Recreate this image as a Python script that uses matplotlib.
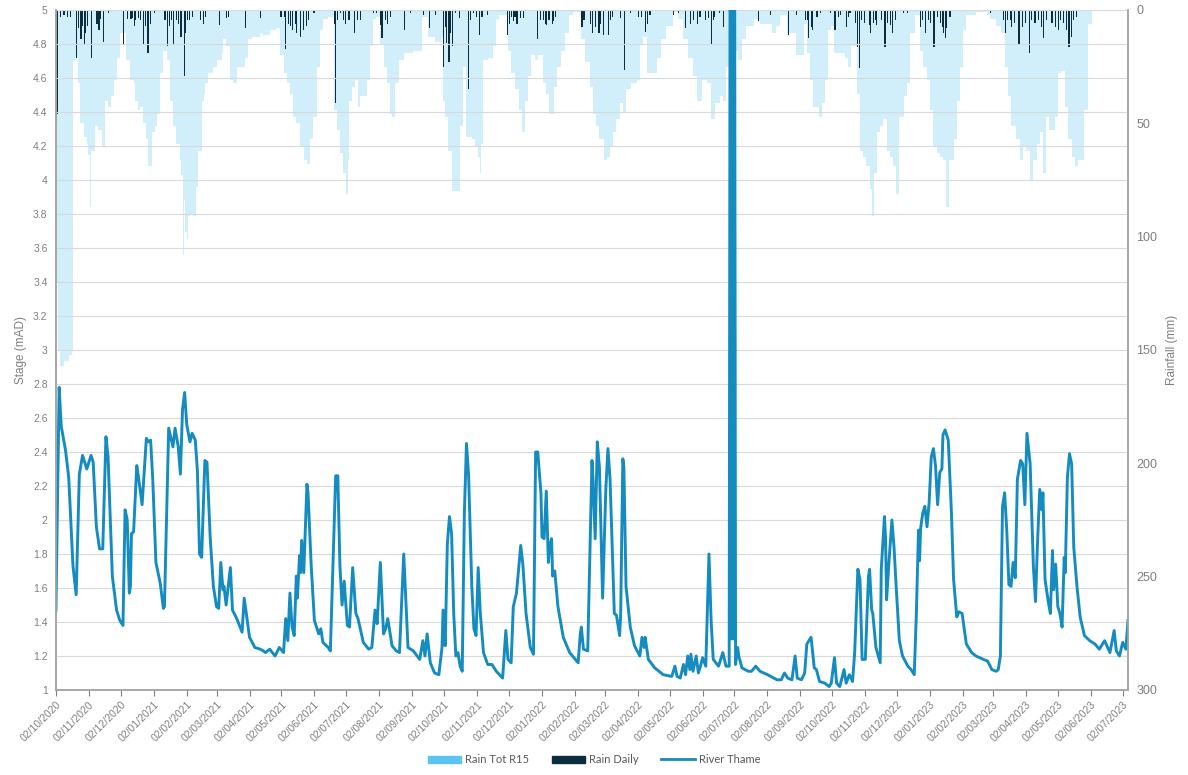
import matplotlib
matplotlib.use("Agg")
import matplotlib.pyplot as plt
import matplotlib.dates as mdates
from matplotlib.patches import Patch
from matplotlib.lines import Line2D
import numpy as np

# all series are day offsets from 02/10/2020
START = "2020-10-02"
END_DAY = 1008

# River Thame stage (mAD)
stage_days = [
    0, 3, 5, 9, 12, 16, 19, 22, 25, 29, 33, 35, 38, 41, 44, 47, 49, 53, 57, 60,
    63, 65, 67, 69, 70, 71, 73, 76, 77, 81, 85, 87, 89, 91, 94, 98, 101, 102, 106, 110,
    112, 115, 117, 119, 121, 123, 126, 128, 131, 133, 135, 137, 140, 142, 145, 148, 151, 153, 155, 157,
    158, 160, 164, 166, 170, 175, 177, 179, 182, 187, 192, 195, 197, 201, 206, 210, 214, 216, 218, 220,
    222, 224, 226, 227, 229, 230, 231, 233, 236, 237, 240, 243, 247, 249, 251, 256, 258, 261, 263, 265,
    267, 269, 271, 274, 276, 279, 282, 284, 289, 294, 297, 300, 302, 305, 308, 310, 312, 316, 320, 323,
    327, 331, 336, 342, 345, 347, 349, 352, 356, 360, 363, 364, 366, 368, 370, 372, 374, 376, 378, 380,
    382, 384, 386, 388, 391, 393, 395, 397, 399, 402, 406, 410, 414, 420, 423, 425, 428, 430, 433, 434,
    437, 439, 442, 446, 449, 451, 453, 456, 457, 459, 461, 463, 464, 466, 467, 469, 472, 477, 483, 491,
    493, 494, 496, 500, 504, 505, 507, 509, 511, 514, 517, 519, 521, 525, 527, 530, 531, 533, 534, 536,
    540, 544, 549, 551, 553, 554, 557, 563, 571, 579, 582, 584, 587, 590, 592, 594, 596, 597, 599, 602,
    604, 606, 608, 611, 614, 616, 618, 623, 627, 630, 633, 634, 635, 636, 637, 638, 639, 641, 642, 645,
    651, 654, 658, 662, 669, 675, 678, 682, 685, 688, 692, 695, 697, 701, 704, 706, 710, 713, 715, 718,
    723, 727, 729, 732, 734, 737, 741, 743, 746, 749, 751, 754, 756, 758, 761, 764, 765, 767, 768, 771,
    775, 776, 779, 780, 781, 783, 786, 788, 790, 793, 796, 801, 804, 807, 809, 811, 812, 813, 815, 817,
    819, 821, 823, 825, 827, 829, 831, 833, 834, 836, 839, 842, 844, 847, 849, 852, 856, 861, 865, 872,
    876, 880, 884, 886, 888, 890, 892, 894, 896, 898, 900, 902, 904, 907, 909, 911, 913, 916, 919, 921,
    923, 925, 927, 928, 930, 933, 935, 937, 938, 940, 942, 944, 946, 948, 949, 951, 953, 955, 957, 960,
    963, 967, 972, 977, 981, 986, 991, 995, 997, 1000, 1003, 1006, 1008,
]
stage_m = [
    1.47, 2.78, 2.55, 2.41, 2.25, 1.73, 1.56, 2.27, 2.38, 2.30, 2.38, 2.34, 1.96, 1.83, 1.83, 2.49, 2.37, 1.67, 1.47, 1.41,
    1.38, 2.06, 2.00, 1.57, 1.61, 1.92, 1.93, 2.32, 2.28, 2.09, 2.48, 2.46, 2.47, 2.24, 1.75, 1.63, 1.48, 1.49, 2.54, 2.43,
    2.54, 2.43, 2.27, 2.65, 2.75, 2.56, 2.46, 2.51, 2.47, 2.29, 1.80, 1.78, 2.35, 2.34, 1.90, 1.61, 1.49, 1.48, 1.75, 1.59,
    1.61, 1.50, 1.72, 1.47, 1.42, 1.34, 1.54, 1.45, 1.31, 1.25, 1.24, 1.23, 1.22, 1.24, 1.20, 1.25, 1.22, 1.42, 1.29, 1.57,
    1.37, 1.32, 1.67, 1.54, 1.79, 1.69, 1.88, 1.69, 2.21, 2.16, 1.73, 1.41, 1.33, 1.36, 1.28, 1.25, 1.23, 1.84, 2.26, 2.26,
    1.73, 1.50, 1.64, 1.38, 1.37, 1.72, 1.45, 1.42, 1.28, 1.24, 1.25, 1.47, 1.39, 1.75, 1.33, 1.36, 1.42, 1.26, 1.23, 1.22,
    1.80, 1.25, 1.23, 1.18, 1.29, 1.20, 1.33, 1.16, 1.10, 1.09, 1.25, 1.47, 1.26, 1.86, 2.02, 1.92, 1.45, 1.20, 1.22, 1.14,
    1.11, 2.04, 2.45, 2.26, 1.61, 1.36, 1.32, 1.72, 1.45, 1.22, 1.15, 1.15, 1.11, 1.07, 1.35, 1.18, 1.16, 1.49, 1.57, 1.64,
    1.85, 1.74, 1.45, 1.25, 1.21, 2.40, 2.40, 2.16, 1.90, 1.89, 2.17, 1.75, 1.84, 1.89, 1.67, 1.70, 1.49, 1.31, 1.22, 1.16,
    1.33, 1.37, 1.24, 1.23, 2.35, 2.24, 1.89, 2.46, 2.31, 1.54, 2.18, 2.42, 2.24, 1.45, 1.44, 1.32, 1.45, 2.36, 2.31, 1.61,
    1.37, 1.26, 1.20, 1.31, 1.25, 1.31, 1.18, 1.13, 1.09, 1.08, 1.14, 1.08, 1.07, 1.15, 1.09, 1.20, 1.12, 1.21, 1.11, 1.20,
    1.10, 1.14, 1.19, 1.14, 1.80, 1.41, 1.18, 1.14, 1.22, 1.14, 1.14, 6.00, 1.30, 6.00, 1.30, 6.00, 1.15, 1.25, 1.20, 1.13,
    1.11, 1.11, 1.14, 1.11, 1.09, 1.07, 1.06, 1.06, 1.10, 1.07, 1.06, 1.20, 1.07, 1.06, 1.10, 1.27, 1.31, 1.13, 1.12, 1.05,
    1.04, 1.02, 1.04, 1.19, 1.04, 1.02, 1.12, 1.04, 1.09, 1.05, 1.22, 1.71, 1.65, 1.18, 1.18, 1.67, 1.71, 1.47, 1.45, 1.25,
    1.16, 1.71, 2.02, 1.90, 1.53, 1.73, 2.00, 1.84, 1.61, 1.29, 1.20, 1.14, 1.12, 1.09, 1.45, 1.94, 1.76, 1.95, 2.04, 2.08,
    1.96, 2.10, 2.37, 2.42, 2.32, 2.09, 2.28, 2.30, 2.50, 2.53, 2.47, 2.04, 1.65, 1.43, 1.46, 1.45, 1.27, 1.22, 1.20, 1.18,
    1.17, 1.12, 1.11, 1.12, 1.20, 2.08, 2.16, 1.94, 1.62, 1.61, 1.75, 1.66, 2.24, 2.35, 2.33, 2.09, 2.51, 2.33, 1.73, 1.52,
    1.88, 2.18, 2.06, 2.16, 1.65, 1.52, 1.45, 1.82, 1.59, 1.74, 1.49, 1.45, 1.37, 1.78, 1.69, 2.25, 2.39, 2.33, 1.84, 1.61,
    1.43, 1.32, 1.29, 1.27, 1.24, 1.29, 1.22, 1.35, 1.23, 1.20, 1.28, 1.24, 1.41,
]

# Rain Tot R15 (mm), running totals read at change points
r15_days = [
    0, 2, 4, 8, 12, 15, 16, 19, 21, 23, 26, 29, 30, 32, 33, 37, 40, 43, 45, 46,
    49, 52, 55, 57, 60, 63, 66, 70, 73, 74, 77, 79, 82, 85, 87, 90, 93, 95, 98, 101,
    104, 107, 110, 113, 117, 118, 119, 120, 121, 123, 124, 126, 129, 131, 132, 134, 137, 139, 140, 143,
    148, 151, 156, 157, 160, 164, 166, 170, 175, 178, 181, 184, 189, 192, 195, 201, 207, 211, 214, 217,
    220, 223, 226, 229, 233, 236, 239, 242, 245, 248, 251, 256, 260, 261, 264, 267, 270, 273, 275, 276,
    278, 281, 284, 286, 289, 292, 295, 298, 301, 305, 308, 311, 314, 316, 319, 323, 327, 331, 336, 341,
    344, 350, 356, 363, 364, 366, 369, 372, 377, 380, 383, 386, 391, 394, 397, 399, 400, 402, 406, 411,
    414, 417, 424, 425, 428, 432, 435, 438, 441, 444, 447, 450, 453, 458, 461, 464, 468, 471, 475, 479,
    482, 486, 493, 494, 497, 502, 505, 508, 511, 515, 518, 521, 524, 527, 530, 533, 536, 541, 546, 549,
    552, 556, 560, 565, 569, 574, 580, 585, 590, 594, 599, 603, 607, 612, 616, 620, 624, 627, 630, 634,
    638, 641, 645, 649, 656, 662, 668, 673, 677, 681, 687, 696, 701, 703, 706, 709, 712, 717, 720, 723,
    726, 729, 732, 737, 742, 745, 748, 751, 753, 756, 759, 762, 765, 767, 769, 772, 775, 778, 781, 784,
    787, 790, 793, 797, 800, 803, 808, 812, 815, 819, 822, 825, 828, 831, 834, 837, 840, 844, 847, 850,
    853, 856, 865, 875, 878, 884, 889, 892, 895, 898, 903, 906, 909, 912, 916, 919, 922, 925, 928, 931,
    934, 939, 942, 945, 949, 952, 955, 958, 961, 964, 967, 970, 974,
]
r15_mm = [
    120, 150, 157, 155, 152, 150, 22, 21, 32, 50, 56, 59, 64, 87, 62, 51, 53, 60, 60, 40,
    43, 38, 31, 21, 10, 10, 22, 31, 32, 40, 44, 43, 50, 57, 69, 54, 51, 46, 28, 18,
    22, 40, 51, 59, 66, 73, 108, 84, 98, 101, 91, 90, 91, 91, 78, 62, 40, 37, 32, 28,
    25, 22, 19, 13, 16, 31, 32, 25, 25, 21, 13, 12, 12, 10, 11, 9, 8, 20, 28, 32,
    37, 47, 50, 60, 66, 68, 57, 47, 25, 9, 4, 3, 3, 44, 53, 63, 72, 81, 66, 40,
    34, 31, 43, 38, 38, 31, 16, 4, 3, 15, 25, 32, 46, 47, 32, 22, 19, 19, 18, 18,
    3, 12, 14, 12, 40, 47, 62, 80, 80, 51, 25, 56, 57, 60, 65, 72, 59, 22, 21, 16,
    4, 2, 3, 18, 28, 35, 44, 54, 40, 29, 20, 22, 20, 32, 37, 46, 34, 25, 18, 10,
    2, 1, 2, 13, 23, 34, 46, 51, 57, 66, 65, 60, 54, 48, 41, 45, 35, 32, 31, 15,
    12, 28, 28, 21, 13, 7, 1, 4, 13, 21, 29, 40, 31, 32, 48, 41, 38, 40, 25, 10,
    18, 22, 13, 7, 4, 6, 6, 10, 7, 2, 10, 20, 20, 6, 19, 31, 43, 47, 41, 31,
    9, 7, 19, 19, 21, 25, 16, 16, 37, 62, 65, 69, 79, 91, 72, 54, 51, 48, 62, 65,
    69, 81, 47, 38, 32, 10, 2, 18, 25, 31, 44, 60, 63, 65, 66, 87, 66, 57, 40, 25,
    9, 2, 1, 2, 4, 7, 10, 25, 38, 51, 57, 66, 60, 62, 75, 66, 59, 54, 72, 47,
    53, 47, 28, 27, 43, 57, 65, 69, 66, 66, 44, 6, 0,
]

# Rain Daily (mm), wet days only
daily_days = [
    0, 1, 4, 7, 10, 13, 19, 21, 23, 24, 26, 27, 29, 33, 38, 40, 41, 44, 49, 63,
    67, 70, 71, 73, 74, 77, 79, 82, 84, 86, 88, 92, 102, 104, 106, 108, 110, 113, 115, 117,
    120, 121, 123, 125, 128, 135, 138, 140, 153, 160, 162, 178, 192, 211, 214, 215, 218, 220, 222, 225,
    226, 229, 232, 235, 237, 242, 261, 262, 264, 267, 270, 272, 275, 280, 283, 286, 298, 301, 305, 306,
    309, 311, 314, 327, 333, 345, 351, 356, 364, 366, 367, 369, 370, 372, 375, 379, 387, 389, 392, 395,
    398, 400, 405, 424, 426, 428, 430, 431, 433, 436, 439, 452, 455, 458, 460, 461, 463, 466, 467, 469,
    494, 496, 502, 504, 507, 510, 511, 514, 519, 521, 523, 530, 534, 540, 547, 550, 554, 556, 558, 580,
    585, 591, 596, 599, 603, 605, 610, 613, 616, 618, 619, 623, 627, 660, 671, 688, 696, 704, 706, 707,
    710, 711, 715, 718, 728, 732, 735, 737, 743, 745, 746, 751, 753, 755, 757, 760, 764, 765, 768, 770,
    771, 776, 779, 781, 784, 786, 789, 796, 800, 812, 814, 817, 820, 822, 825, 828, 831, 833, 834, 836,
    837, 840, 878, 890, 892, 894, 897, 898, 901, 905, 908, 911, 915, 917, 920, 923, 926, 928, 931, 936,
    939, 942, 944, 947, 950, 952, 954, 956, 959,
]
daily_mm = [
    50, 46, 3, 2, 3, 3, 21, 8, 13, 7, 15, 10, 7, 21, 6, 9, 4, 14, 1.5, 15,
    4, 4, 3.7, 7, 4.4, 3.7, 4.4, 15, 7, 19, 6, 1.5, 4.4, 16, 7, 4.4, 15, 4.4, 6, 12,
    29, 10, 4.4, 4.4, 3, 4.4, 6, 3, 6.6, 3.7, 3, 8, 3.7, 3, 3, 17, 6, 7, 9, 6,
    10, 12, 9, 7, 4.4, 1.5, 6, 41, 4.4, 1.5, 4.4, 6, 4.4, 10, 4.4, 4.4, 1.5, 1.5, 6.6, 12.5,
    4.4, 6, 3, 9, 1.5, 2.2, 8, 2.2, 25, 7.4, 14.7, 23, 10, 16, 1.5, 3.7, 35, 4.4, 1.5, 3,
    11, 3, 2.2, 11, 6, 3, 5, 3, 6, 3.7, 3.7, 13, 4.4, 4.4, 6, 6.6, 4.4, 6, 5, 3,
    7.4, 4.4, 6, 10, 7.4, 10, 6, 11, 11, 4.4, 3, 3.7, 26.5, 1.5, 3, 3, 9.6, 6, 2.2, 2.2,
    1.5, 8, 6, 4.4, 6, 3, 4.4, 3.7, 15.4, 4.4, 3, 1.5, 7.4, 5, 2.2, 11, 2.2, 4.4, 4.4, 12.5,
    7.4, 8.8, 2.9, 1.5, 1.5, 8.8, 2.9, 2.2, 7.4, 2.9, 1.5, 5.9, 16.2, 25.7, 4.4, 5.9, 6.6, 10.3, 5.9, 4.4,
    6.6, 4.4, 16.2, 5.9, 6.6, 10.3, 4.4, 1.5, 1.5, 7.4, 4.4, 10.3, 4.4, 5.9, 16.2, 2.9, 5.9, 7.4, 10.3, 12.5,
    8, 2.9, 1.5, 4.4, 10.3, 4.4, 4.4, 7.4, 5.9, 15.4, 7.4, 5.9, 19, 4.4, 5.9, 4.4, 7.4, 12.5, 4.4, 5.9,
    7.4, 8.8, 4.4, 5.9, 8.8, 16.2, 11.8, 4.4, 2.9,
]

GREY = "#7f7f7f"
R15_COLOUR = "#5bc5f2"
DAILY_COLOUR = "#0b2d40"
LINE_COLOUR = "#158cbf"

plt.rcParams["font.family"] = ["Liberation Sans", "DejaVu Sans"]

t0 = mdates.date2num(np.datetime64(START))
x_stage = t0 + np.array(stage_days, dtype=float)
x_r15 = t0 + np.array(r15_days, dtype=float)
w_r15 = np.append(np.diff(r15_days), 1.0)
x_daily = t0 + np.array(daily_days, dtype=float)

fig = plt.figure(figsize=(11.88, 7.75), dpi=100)
ax = fig.add_axes([0.0471, 0.1097, 0.9024, 0.8774])
ax2 = ax.twinx()

# rainfall hangs from the top on the inverted right axis
ax2.bar(x_r15, r15_mm, width=w_r15, align="edge", color=R15_COLOUR, alpha=0.28,
        linewidth=0)
ax2.bar(x_daily, daily_mm, width=1.1, align="edge", color=DAILY_COLOUR, linewidth=0)
ax2.set_ylim(300, 0)
ax2.set_yticks(np.arange(0, 301, 50))

ax.set_zorder(ax2.get_zorder() + 1)
ax.patch.set_visible(False)
ax.plot(x_stage, stage_m, color=LINE_COLOUR, lw=2.1, solid_joinstyle="round")
ax.set_ylim(1, 5)
ax.set_yticks(np.round(np.arange(1, 5.01, 0.2), 1))
ax.yaxis.set_major_formatter(plt.FuncFormatter(lambda v, p: f"{v:g}"))
ax.set_xlim(t0, t0 + END_DAY)
ax.grid(axis="y", color="#d9d9d9", lw=0.8)
ax.set_axisbelow(True)

ax.xaxis.set_major_locator(mdates.MonthLocator(bymonthday=2))
ax.xaxis.set_major_formatter(mdates.DateFormatter("%d/%m/%Y"))
for lab in ax.get_xticklabels():
    lab.set_rotation(45)
    lab.set_ha("right")
    lab.set_rotation_mode("anchor")

ax.tick_params(axis="x", colors=GREY, labelsize=7.5, length=4, width=0.8, pad=3)
ax.tick_params(axis="y", colors=GREY, labelsize=7.5, length=0, pad=6)
ax2.tick_params(axis="y", colors=GREY, labelsize=9, length=0, pad=6)

for a in (ax, ax2):
    a.spines["top"].set_visible(False)
    for s in ("left", "right", "bottom"):
        a.spines[s].set_color("#a6a6a6")
        a.spines[s].set_linewidth(1.2)

ax.set_ylabel("Stage (mAD)", color=GREY, fontsize=8.5, labelpad=4)
ax2.set_ylabel("Rainfall (mm)", color=GREY, fontsize=8.5, labelpad=6)

handles = [
    Patch(color=R15_COLOUR, label="Rain Tot R15"),
    Patch(color=DAILY_COLOUR, label="Rain Daily"),
    Line2D([], [], color=LINE_COLOUR, lw=2, label="River Thame"),
]
fig.legend(handles=handles, loc="lower center", bbox_to_anchor=(0.5, 0.0), ncol=3,
           frameon=False, handlelength=3.0, handleheight=0.6, columnspacing=2.0,
           handletextpad=0.4, prop={"family": ["Lato", "DejaVu Sans"], "size": 8},
           labelcolor="#595959")

fig.savefig("out.png", dpi=100)
